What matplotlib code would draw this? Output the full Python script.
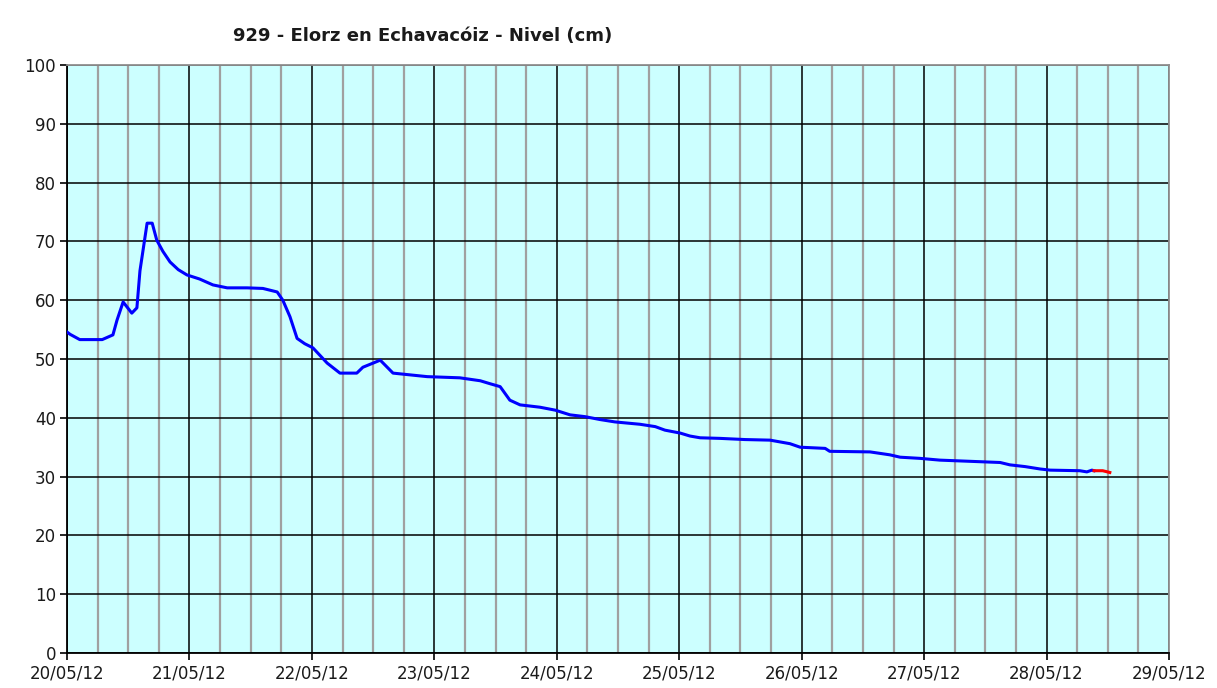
import pandas as pd
import matplotlib
matplotlib.use("Agg")
import matplotlib.pyplot as plt
import matplotlib.dates as mdates

# Serie de nivel (horas desde 20/05/12 00:00, cm)
horas = [0, 0.6, 2.5, 6.9, 9.0, 9.8, 11.0, 12.7, 13.7, 14.3, 15.7, 16.7, 17.6,
         18.8, 20.2, 21.8, 23.5, 26.0, 28.6, 31.4, 35.3, 38.4, 41.2, 42.3,
         43.7, 45.1, 46.6, 48.2, 51.0, 53.5, 56.8, 58.0, 61.4, 63.9, 70.6,
         77.0, 81.0, 82.9, 84.9, 86.8, 88.8, 92.7, 95.7, 98.6, 101.5, 104.5,
         107.4, 112.3, 115.3, 117.2, 120.2, 122.1, 124.1, 128.0, 132.9,
         137.8, 141.7, 143.7, 148.6, 149.5, 157.4, 161.3, 163.3, 167.2,
         171.1, 177.0, 182.9, 184.8, 187.8, 190.7, 192.7, 198.5, 199.9,
         200.9, 201.3]
nivel = [54.6, 54.2, 53.3, 53.3, 54.1, 56.6, 59.7, 57.8, 58.7, 65.0, 73.1,
         73.1, 70.2, 68.3, 66.5, 65.2, 64.3, 63.6, 62.6, 62.1, 62.1, 62.0,
         61.4, 60.0, 57.2, 53.5, 52.6, 51.9, 49.3, 47.6, 47.6, 48.6, 49.8,
         47.6, 47.0, 46.8, 46.3, 45.8, 45.3, 43.0, 42.2, 41.8, 41.3, 40.5,
         40.2, 39.7, 39.3, 38.9, 38.5, 37.9, 37.4, 36.9, 36.6, 36.5, 36.3,
         36.2, 35.6, 35.0, 34.8, 34.3, 34.2, 33.7, 33.3, 33.1, 32.8, 32.6,
         32.4, 32.0, 31.7, 31.3, 31.1, 31.0, 30.8, 31.1, 31.0]

# Tramo en rojo (datos finales)
horas_rojo = [201.3, 203.0, 204.4]
nivel_rojo = [31.0, 31.0, 30.7]

inicio = pd.Timestamp("2012-05-20")
t = inicio + pd.to_timedelta(horas, unit="h")
t_rojo = inicio + pd.to_timedelta(horas_rojo, unit="h")

fig = plt.figure(figsize=(12.17, 6.88), dpi=100)
ax = fig.add_axes([67 / 1217, 1 - 653 / 688, 1102 / 1217, 588 / 688])
ax.set_facecolor("#CCFFFF")

ax.plot(t, nivel, color="#0000FF", lw=2.2, zorder=3)
ax.plot(t_rojo, nivel_rojo, color="#FF0000", lw=2.2, zorder=3)

ax.set_xlim(inicio, inicio + pd.Timedelta(days=9))
ax.set_ylim(0, 100)
ax.set_yticks(range(0, 101, 10))

ax.xaxis.set_major_locator(mdates.DayLocator())
ax.xaxis.set_major_formatter(mdates.DateFormatter("%d/%m/%y"))
ax.xaxis.set_minor_locator(mdates.HourLocator(byhour=[6, 12, 18]))

ax.grid(which="minor", axis="x", color="#A0A0A0", lw=1.6, zorder=1)
ax.grid(which="major", color="#000000", lw=1.1, zorder=2)
ax.set_axisbelow(True)

ax.tick_params(axis="both", which="major", length=5, width=1.2,
               labelsize=12, colors="#000000", labelcolor="#1a1a1a", pad=3)
ax.tick_params(axis="x", which="minor", length=0)

for lado in ["left", "bottom"]:
    ax.spines[lado].set_color("#000000")
    ax.spines[lado].set_linewidth(1.3)
for lado in ["top", "right"]:
    ax.spines[lado].set_color("#909090")
    ax.spines[lado].set_linewidth(1.3)

fig.text(423 / 1217, 1 - 36 / 688, "929 - Elorz en Echavacóiz - Nivel (cm)",
         ha="center", va="center", fontsize=13, fontweight="bold",
         color="#1a1a1a")

fig.savefig("out.png", dpi=100, facecolor="white")
